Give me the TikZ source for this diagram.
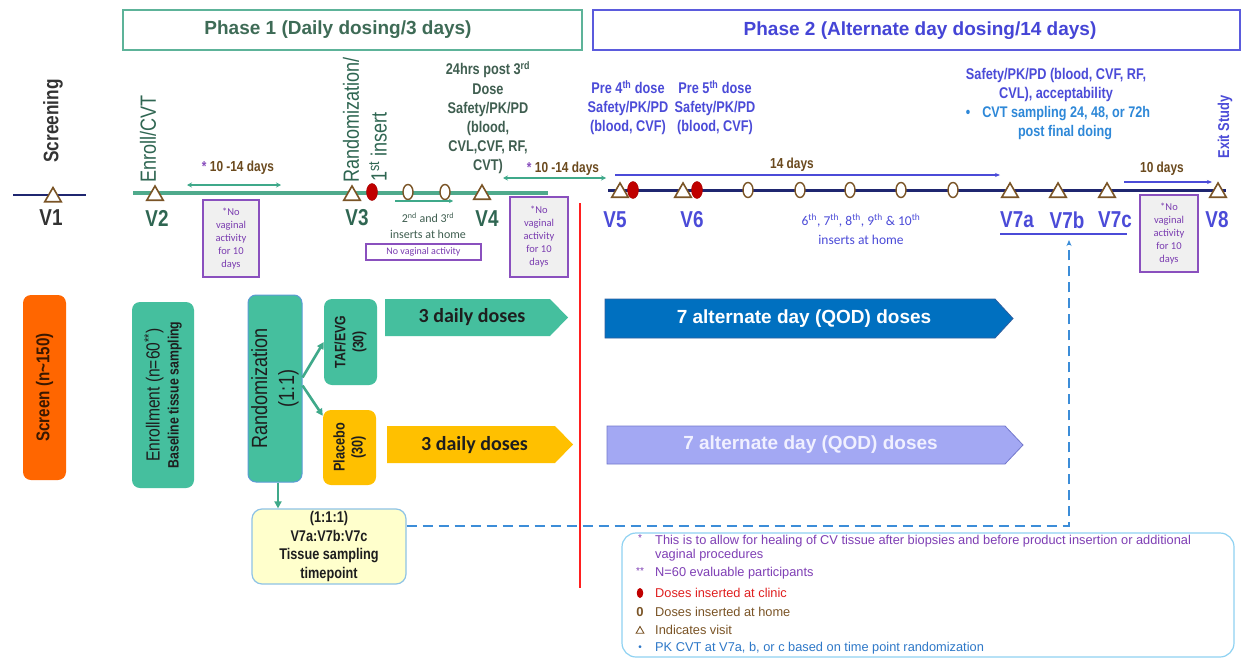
\documentclass[tikz,border=0pt]{standalone}
\usepackage{fontspec}
\setmainfont{Liberation Sans}
\newfontfamily\narf{Liberation Sans}[FakeStretch=0.82]
\newfontfamily\carl{Carlito}
\usetikzlibrary{shapes.geometric,arrows.meta}
\newcommand\myfs[2]{\fontsize{#1}{#2}\selectfont}
\definecolor{p1border}{HTML}{5DB399}
\definecolor{p1text}{HTML}{3E6B56}
\definecolor{p2border}{HTML}{5B5BDD}
\definecolor{p2text}{HTML}{4545D6}
\definecolor{tlnavy}{HTML}{1F2670}
\definecolor{tealline}{HTML}{4FAA8C}
\definecolor{visitbrown}{HTML}{7A5426}
\definecolor{clinicred}{HTML}{C00000}
\definecolor{v1gray}{HTML}{333333}
\definecolor{vgreen}{HTML}{2F6652}
\definecolor{anngreen}{HTML}{3F5E50}
\definecolor{p2blue}{HTML}{4B4BD8}
\definecolor{cyanblue}{HTML}{2E88D8}
\definecolor{daysbrown}{HTML}{6B4A1E}
\definecolor{novagpurple}{HTML}{8A50BE}
\definecolor{novaggray}{HTML}{F0F0F0}
\definecolor{novagtext}{HTML}{7A3CB0}
\definecolor{greenarrow}{HTML}{3FA98A}
\definecolor{redline}{HTML}{FF1F1F}
\definecolor{orangebox}{HTML}{FF6600}
\definecolor{orangetext}{HTML}{3A1800}
\definecolor{tealbox}{HTML}{45BF9E}
\definecolor{randborder}{HTML}{5B9BD5}
\definecolor{yellowbox}{HTML}{FFC000}
\definecolor{lightyellow}{HTML}{FFFFCC}
\definecolor{tissueborder}{HTML}{8EC3E6}
\definecolor{boxtext}{HTML}{1E1E1E}
\definecolor{qodblue}{HTML}{0070C0}
\definecolor{qodborder}{HTML}{2F5F9F}
\definecolor{qodlight}{HTML}{A3A8F3}
\definecolor{qodlightborder}{HTML}{7378CC}
\definecolor{dashblue}{HTML}{3C8DD8}
\definecolor{legborder}{HTML}{8FD2F2}
\definecolor{legpurple}{HTML}{7F3FB5}
\definecolor{legred}{HTML}{E02020}
\definecolor{legblue}{HTML}{2E78C8}
\tikzset{
  visittri/.style={regular polygon, regular polygon sides=3, draw=visitbrown, fill=white, line width=1.6pt, minimum size=19pt, inner sep=0pt},
  clinicdot/.style={ellipse, fill=clinicred, draw=clinicred!85!black, minimum width=11pt, minimum height=17pt, inner sep=0pt},
  homedot/.style={ellipse, fill=white, draw=visitbrown, line width=1.4pt, minimum width=10pt, minimum height=15pt, inner sep=0pt},
  vlab/.style={font=\narf\bfseries\myfs{23}{23}, inner sep=0pt},
  novag/.style={draw=novagpurple, line width=1.8pt, fill=novaggray, minimum width=56pt, minimum height=77pt, align=center, font=\carl\myfs{10.5}{13}, text=novagtext, inner sep=1pt},
  gspan/.style={draw=greenarrow, line width=1.3pt, {Stealth[length=5pt,width=5pt]}-{Stealth[length=5pt,width=5pt]}},
  bspan/.style={draw=p2blue, line width=1.2pt, -{Stealth[length=5pt,width=4pt]}},
  daystxt/.style={font=\narf\bfseries\myfs{14.5}{14.5}, text=daysbrown, inner sep=0pt},
  ann2/.style={align=center, font=\narf\bfseries\myfs{15.5}{19}, text=p2blue, inner sep=0pt},
  boxr/.style={rounded corners=8pt, inner sep=0pt},
  rottxt/.style={rotate=90, align=center, inner sep=0pt},
  tealarrow/.style={draw=greenarrow, line width=2.6pt, -{Triangle[length=7pt,width=7pt]}},
  legtxt/.style={anchor=west, font=\myfs{12.8}{15}, inner sep=0pt},
  dosetxt/.style={font=\carl\bfseries\myfs{20}{20}, text=boxtext, inner sep=0pt},
  qodtxt/.style={font=\bfseries\myfs{19}{19}, inner sep=0pt}
}
\begin{document}
\begin{tikzpicture}[x=1pt,y=-1pt]
\useasboundingbox (0,0) rectangle (1244,658);
\fill[white] (0,0) rectangle (1244,658);

% headers
\node[draw=p1border, line width=1.4pt, minimum width=459pt, minimum height=40pt, inner sep=0pt] (ph1box) at (352.5,30) {};
\node[font=\bfseries\myfs{19}{19}, text=p1text, inner sep=0pt] (ph1) at (338,30) {Phase 1 (Daily dosing/3 days)};
\node[draw=p2border, line width=1.4pt, minimum width=647pt, minimum height=40pt, inner sep=0pt] (ph2box) at (916.5,30) {};
\node[font=\bfseries\myfs{19}{19}, text=p2text, inner sep=0pt] (ph2) at (920,31) {Phase 2 (Alternate day dosing/14 days)};

% timeline lines
\coordinate (l1a) at (13,195); \coordinate (l1b) at (86,195);
\draw[tlnavy, line width=2.2pt] (l1a) -- (l1b);
\coordinate (g1) at (133,193); \coordinate (g2) at (548,193);
\draw[tealline, line width=4.5pt] (g1) -- (g2);
\coordinate (n1) at (608,190); \coordinate (n2) at (1226,190);
\draw[tlnavy, line width=3pt] (n1) -- (n2);

% visits and doses
\node[visittri] (t1) at (53,197) {};
\node[visittri] (t2) at (155,195.5) {};
\node[visittri] (t3) at (352,195.5) {};
\node[clinicdot] (c3) at (372,192) {};
\node[homedot] (h2) at (408,192) {};
\node[homedot] (h3) at (445,192) {};
\node[visittri] (t4) at (482,194.5) {};
\node[visittri] (t5) at (620,192.5) {};
\node[clinicdot] (c5) at (633,190) {};
\node[visittri] (t6) at (683,192.5) {};
\node[clinicdot] (c6) at (697,190) {};
\node[homedot] (h6) at (748,190) {};
\node[homedot] (h7) at (800,190) {};
\node[homedot] (h8) at (850,190) {};
\node[homedot] (h9) at (901,190) {};
\node[homedot] (h10) at (953,190) {};
\node[visittri] (t7a) at (1010,192.5) {};
\node[visittri] (t7b) at (1058,192.5) {};
\node[visittri] (t7c) at (1107,192.5) {};
\node[visittri] (t8) at (1218,192.5) {};

% visit labels
\node[vlab, text=v1gray] (v1) at (51,218) {V1};
\node[vlab, text=vgreen] (v2) at (157,218) {V2};
\node[vlab, text=vgreen] (v3) at (357,218) {V3};
\node[vlab, text=vgreen] (v4) at (487,219) {V4};
\node[vlab, text=p2blue] (v5) at (615,220) {V5};
\node[vlab, text=p2blue] (v6) at (692,220) {V6};
\node[vlab, text=p2blue] (v7a) at (1017,220) {V7a};
\node[vlab, text=p2blue] (v7b) at (1067,220) {V7b};
\node[vlab, text=p2blue] (v7c) at (1115,220) {V7c};
\node[vlab, text=p2blue] (v8) at (1217,220) {V8};
\coordinate (u1) at (1000,234); \coordinate (u2) at (1127,234);
\draw[p2blue, line width=1.5pt] (u1) -- (u2);

% rotated labels
\node[rotate=90, font=\narf\bfseries\myfs{21}{21}, text=v1gray, inner sep=0pt] (scr) at (53,121) {Screening};
\node[rotate=90, anchor=west, font=\narf\myfs{22}{22}, text=vgreen, inner sep=0pt] (enr) at (148,183) {Enroll/CVT};
\node[rotate=90, anchor=west, font=\narf\myfs{22}{22}, text=vgreen, inner sep=0pt] (rnd) at (351,183) {Randomization/};
\node[rotate=90, anchor=west, font=\narf\myfs{22}{22}, text=vgreen, inner sep=0pt] (ins1) at (378,182) {1\textsuperscript{st} insert};
\node[rotate=90, font=\narf\bfseries\myfs{15.7}{15.7}, text=p2blue, inner sep=0pt] (exit) at (1225,127) {Exit Study};

% annotations
\node[align=center, font=\narf\bfseries\myfs{15.5}{19.2}, text=anngreen, inner sep=0pt] (ann4) at (488,118) {24hrs post 3\textsuperscript{rd}\\Dose\\Safety/PK/PD\\(blood,\\CVL,CVF, RF,\\CVT)};
\node[ann2] (ann5) at (628,108) {Pre 4\textsuperscript{th} dose\\Safety/PK/PD\\(blood, CVF)};
\node[ann2] (ann6) at (715,108) {Pre 5\textsuperscript{th} dose\\Safety/PK/PD\\(blood, CVF)};
\node[ann2] (ann7) at (1056,85) {Safety/PK/PD (blood, CVF, RF,\\CVL), acceptability};
\node[font=\narf\bfseries\myfs{15.4}{19}, text=cyanblue, inner sep=0pt] (ann7b) at (1058,114) {\textbullet\hspace{12pt}CVT sampling 24, 48, or 72h};
\node[font=\narf\bfseries\myfs{15.4}{19}, text=cyanblue, inner sep=0pt] (ann7c) at (1065,133) {post final doing};

% spans
\node[daystxt] (d1) at (238,168) {\textcolor{novagpurple}{*} 10 -14 days};
\coordinate (a1l) at (187,185); \coordinate (a1r) at (281,185);
\draw[gspan] (a1l) -- (a1r);
\node[daystxt] (d2) at (563,169) {\textcolor{novagpurple}{*} 10 -14 days};
\coordinate (a2l) at (503,178); \coordinate (a2r) at (606,178);
\draw[gspan] (a2l) -- (a2r);
\coordinate (a3l) at (395,201); \coordinate (a3r) at (453,201);
\draw[draw=greenarrow, line width=1.2pt, -{Stealth[length=4pt,width=4pt]}] (a3l) -- (a3r);
\node[daystxt] (d14) at (792,165) {14 days};
\coordinate (a14l) at (615,175); \coordinate (a14r) at (1000,175);
\draw[bspan] (a14l) -- (a14r);
\node[daystxt] (d10) at (1162,169) {10 days};
\coordinate (a10l) at (1124,182); \coordinate (a10r) at (1212,182);
\draw[bspan] (a10l) -- (a10r);

% inserts text
\node[align=center, font=\carl\myfs{12}{16}, text=anngreen, inner sep=0pt] (ins23) at (428,226) {2\textsuperscript{nd} and 3\textsuperscript{rd}\\inserts at home};
\node[align=center, font=\carl\myfs{13.5}{19}, text=p2blue, inner sep=0pt] (ins610) at (861,229) {6\textsuperscript{th}, 7\textsuperscript{th}, 8\textsuperscript{th}, 9\textsuperscript{th} \& 10\textsuperscript{th}\\inserts at home};

% no vaginal activity boxes
\node[novag] (nv1) at (231,238.5) {*No\\vaginal\\activity\\for 10\\days};
\node[novag, minimum width=58pt, minimum height=80pt] (nv2) at (539,237) {*No\\vaginal\\activity\\for 10\\days};
\node[novag, minimum width=58pt] (nv3) at (1169,233.5) {*No\\vaginal\\activity\\for 10\\days};
\node[draw=novagpurple, line width=1.5pt, minimum width=115pt, minimum height=16pt, inner sep=0pt, font=\carl\myfs{10}{10}, text=novagtext] (nva) at (423.5,252) {No vaginal activity};

% red divider
\coordinate (r1) at (580,203); \coordinate (r2) at (580,588);
\draw[redline, line width=2.4pt] (r1) -- (r2);

% lower boxes
\node[boxr, fill=orangebox, minimum width=43pt, minimum height=185pt] (screenbox) at (44.5,387.5) {};
\node[rottxt, font=\narf\bfseries\myfs{18.5}{18.5}, text=orangetext] (screentxt) at (screenbox.center) {Screen (n\textasciitilde150)};
\node[boxr, fill=tealbox, minimum width=62pt, minimum height=186pt] (enrollbox) at (163,395) {};
\node[rottxt, font=\narf\myfs{19}{19}, text=boxtext] (enrolltxt) at (enrollbox.center) {Enrollment (n=60\textsuperscript{**})\\{\bfseries\myfs{15}{19}Baseline tissue sampling}};
\node[boxr, fill=tealbox, draw=randborder, line width=1pt, minimum width=54pt, minimum height=187pt] (randbox) at (275,388.5) {};
\node[rottxt, font=\narf\myfs{22}{27}, text=boxtext] (randtxt) at (randbox.center) {Randomization\\(1:1)};
\node[boxr, fill=tealbox, minimum width=53pt, minimum height=86pt] (tafbox) at (350.5,342) {};
\node[rottxt, font=\narf\bfseries\myfs{15}{18}, text=boxtext] (taftxt) at (tafbox.center) {TAF/EVG\\(30)};
\node[boxr, fill=yellowbox, minimum width=53pt, minimum height=75pt] (placbox) at (349.5,447.5) {};
\node[rottxt, font=\narf\bfseries\myfs{15.5}{18}, text=boxtext] (plactxt) at (placbox.center) {Placebo\\(30)};
\node[rounded corners=10pt, fill=lightyellow, draw=tissueborder, line width=1.2pt, minimum width=154pt, minimum height=75pt, align=center, inner sep=0pt, font=\narf\bfseries\myfs{15.5}{18.7}, text=boxtext] (tis) at (329,546.5) {(1:1:1)\\V7a:V7b:V7c\\Tissue sampling\\timepoint};

\draw[tealarrow] ([yshift=11pt]randbox.east) -- (tafbox.west);
\draw[tealarrow] ([yshift=3pt]randbox.east) -- ([yshift=-6pt]placbox.north west);
\draw[tealarrow] ([xshift=3pt]randbox.south) -- ([xshift=3pt]randbox.south |- tis.north);

% dose arrows
\path[fill=tealbox] (385,299) -- (550,299) -- (568,317.5) -- (550,336) -- (385,336) -- cycle;
\node[dosetxt] (dd1) at (472,317) {3 daily doses};
\path[fill=yellowbox] (387,426) -- (555,426) -- (573,444.5) -- (555,463) -- (387,463) -- cycle;
\node[dosetxt] (dd2) at (474.5,445.5) {3 daily doses};
\path[fill=qodblue, draw=qodborder, line width=0.8pt] (605,299) -- (995,299) -- (1013,318.5) -- (995,338) -- (605,338) -- cycle;
\node[qodtxt, text=white] (qod1) at (804,319) {7 alternate day (QOD) doses};
\path[fill=qodlight, draw=qodlightborder, line width=0.8pt] (607,426) -- (1005,426) -- (1023,445) -- (1005,464) -- (607,464) -- cycle;
\node[qodtxt, text=white!94!blue] (qod2) at (810.5,445) {7 alternate day (QOD) doses};

% dashed link
\coordinate (dend) at (1069,240);
\draw[dashblue, line width=2pt, dash pattern=on 10pt off 6pt, -{Stealth[length=6pt,width=5pt]}] ([yshift=20.5pt]tis.east) -| (dend);

% legend
\node[draw=legborder, line width=1.2pt, rounded corners=14pt, minimum width=612pt, minimum height=124pt, inner sep=0pt] (leg) at (928,595) {};
\node[text=legpurple, font=\myfs{10}{10}, inner sep=0pt] (s1) at (640,538) {*};
\node[legtxt, text=legpurple] (lg1) at (655,541) {This is to allow for healing of CV tissue after biopsies and before product insertion or additional};
\node[legtxt, text=legpurple] (lg1b) at (655,555) {vaginal procedures};
\node[text=legpurple, font=\myfs{10}{10}, inner sep=0pt] (s2) at (640,571) {**};
\node[legtxt, text=legpurple] (lg2) at (655,573) {N=60 evaluable participants};
\node[ellipse, fill=clinicred, minimum width=6.5pt, minimum height=10pt, inner sep=0pt] (s3) at (640,593) {};
\node[legtxt, text=legred] (lg3) at (655,593) {Doses inserted at clinic};
\node[text=visitbrown, font=\bfseries\myfs{13}{13}, inner sep=0pt] (s4) at (640,612) {0};
\node[legtxt, text=visitbrown] (lg4) at (655,612) {Doses inserted at home};
\node[regular polygon, regular polygon sides=3, draw=visitbrown, line width=0.9pt, minimum size=9pt, inner sep=0pt] (s5) at (640,631) {};
\node[legtxt, text=visitbrown] (lg5) at (655,630) {Indicates visit};
\node[text=legblue, font=\myfs{10}{10}, inner sep=0pt] (s6) at (640,648) {\textbullet};
\node[legtxt, text=legblue] (lg6) at (655,648) {PK CVT at V7a, b, or c based on time point randomization};
\end{tikzpicture}
\end{document}
